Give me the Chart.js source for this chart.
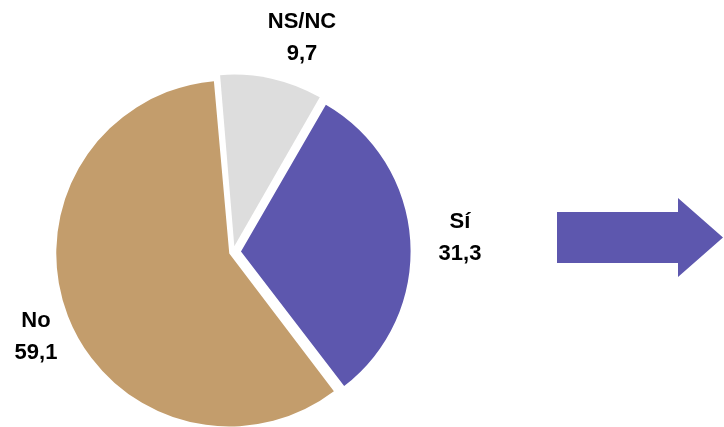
<!DOCTYPE html>
<html>
<head>
<meta charset="utf-8">
<script src="https://cdn.jsdelivr.net/npm/chart.js@4"></script>
<style>
  body { margin: 0; background: #fff; }
  canvas { display: block; }
</style>
</head>
<body>
<canvas id="pieChart" width="724" height="427"></canvas>
<script>
const categories = ['Sí', 'No', 'NS/NC'];
const values = [31.3, 59.1, 9.7];
const colors = ['#5D57AE', '#C39D6C', '#DDDDDD'];

// explode distance per slice (chart.js moves arcs by offset/4)
const explode = [32, 16, 24];

// where each label block sits (center x, first baseline)
const labelSpots = [[460, 228], [36, 327], [302, 28]];

const fmt = v => v.toString().replace('.', ',');

const labelsPlugin = {
  id: 'pieLabels',
  afterDraw(chart) {
    const ctx = chart.ctx;
    ctx.save();
    ctx.fillStyle = '#000';
    ctx.font = 'bold 22px "Liberation Sans", Arial, sans-serif';
    ctx.textAlign = 'center';
    ctx.textBaseline = 'alphabetic';
    categories.forEach((cat, i) => {
      const [x, y] = labelSpots[i];
      ctx.fillText(cat, x, y);
      ctx.fillText(fmt(values[i]), x, y + 32);
    });

    // arrow on the right
    ctx.fillStyle = colors[0];
    ctx.beginPath();
    ctx.moveTo(557, 212);
    ctx.lineTo(678, 212);
    ctx.lineTo(678, 198);
    ctx.lineTo(723, 237.5);
    ctx.lineTo(678, 277);
    ctx.lineTo(678, 263);
    ctx.lineTo(557, 263);
    ctx.closePath();
    ctx.fill();
    ctx.restore();
  }
};

const ctx = document.getElementById('pieChart').getContext('2d');

const pieChart = new Chart(ctx, {
  type: 'pie',
  data: {
    labels: categories,
    datasets: [{
      data: values,
      backgroundColor: colors,
      borderWidth: 0,
      offset: explode,
      hoverOffset: 0
    }]
  },
  options: {
    responsive: false,
    animation: false,
    rotation: 30,
    radius: 169,
    layout: {
      padding: { left: 0, right: 258, top: 77, bottom: 0 }
    },
    plugins: {
      legend: { display: false },
      tooltip: { enabled: false }
    }
  },
  plugins: [labelsPlugin]
});
</script>
</body>
</html>
